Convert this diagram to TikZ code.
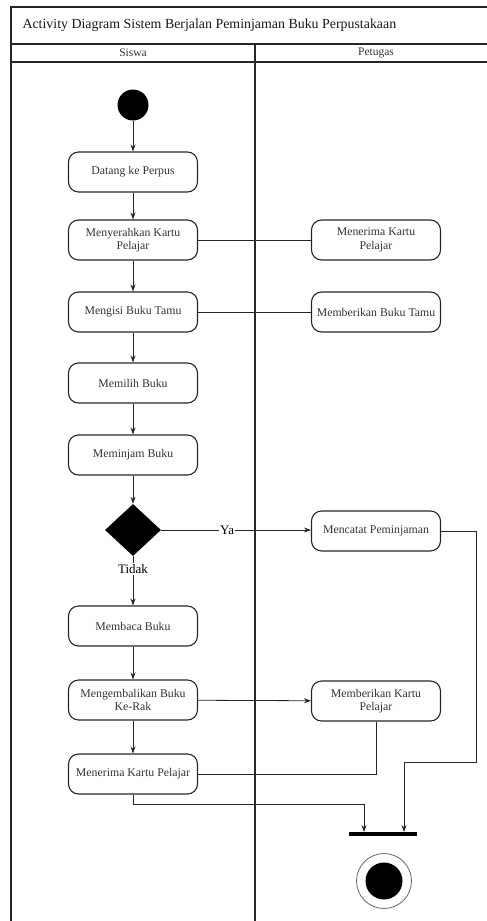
\documentclass[tikz,border=0pt]{standalone}
\usepackage{fontspec}
\setmainfont{Liberation Serif}
\usetikzlibrary{shapes.geometric,arrows.meta}

\tikzset{
  lane/.style={draw=black!85, line width=1.5pt},
  act/.style={draw=black!85, line width=1.1pt, rounded corners=10pt,
    minimum width=129pt, minimum height=40pt, align=center, inner sep=1pt,
    text=black!80, font=\fontsize{11.8}{13.5}\selectfont},
  flow/.style={draw=black!85, line width=0.8pt, -{Stealth[length=7pt,width=5pt]}},
  link/.style={draw=black!85, line width=0.8pt},
  guard/.style={fill=white, inner sep=1pt, text=black, font=\fontsize{13}{14}\selectfont},
}

\begin{document}
\begin{tikzpicture}[x=1pt,y=-1pt]
\useasboundingbox (0,0) rectangle (487,921);

% swimlanes
\draw [lane] (11,921) -- (11,7) -- (487,7);
\draw [lane] (11,44) -- (487,44);
\draw [lane] (11,62) -- (487,62);
\draw [lane] (255,44) -- (255,921);
\node [anchor=west, text=black!90, font=\fontsize{13.9}{15}\selectfont] (title) at (19,25)
  {Activity Diagram Sistem Berjalan Peminjaman Buku Perpustakaan};
\node [text=black!80, font=\fontsize{11.5}{13}\selectfont] (siswa) at (133,53) {Siswa};
\node [text=black!80, font=\fontsize{11.5}{13}\selectfont] (petugas) at (376,53) {Petugas};

% siswa
\node [circle, fill=black, minimum size=31pt, inner sep=0] (start) at (133,105) {};
\node [act] (datang) at (133,172) {Datang ke Perpus};
\node [act] (serah) at (133,240) {Menyerahkan Kartu\\Pelajar};
\node [act] (isi) at (133,312) {Mengisi Buku Tamu};
\node [act] (pilih) at (133,383) {Memilih Buku};
\node [act] (pinjam) at (133,455) {Meminjam Buku};
\node [diamond, fill=black, minimum width=56pt, minimum height=52pt, inner sep=0] (cek) at (133,530) {};
\node [act] (baca) at (133,626) {Membaca Buku};
\node [act] (kembali) at (133,700) {Mengembalikan Buku\\Ke-Rak};
\node [act] (terimaS) at (133,774) {Menerima Kartu Pelajar};

% petugas
\node [act] (terimaP) at (376,240) {Menerima Kartu\\Pelajar};
\node [act] (tamu) at (376,312) {Memberikan Buku Tamu};
\node [act] (catat) at (376,531) {Mencatat Peminjaman};
\node [act] (beri) at (376,701) {Memberikan Kartu\\Pelajar};
\node [fill=black, minimum width=68pt, minimum height=4pt, inner sep=0] (join) at (383,834) {};
\node [circle, draw=black!60, line width=0.8pt, minimum size=55pt, inner sep=0] (stop) at (384,881) {};
\node [circle, fill=black, minimum size=37pt, inner sep=0] (stopin) at (384,881) {};
\coordinate (j1) at (404,832);
\coordinate (j2) at (364,832);

% connectors
\draw [flow] (start) -- (datang);
\draw [flow] (datang) -- (serah);
\draw [link] (serah) -- (terimaP);
\draw [flow] (serah) -- (isi);
\draw [link] (isi) -- (tamu);
\draw [flow] (isi) -- (pilih);
\draw [flow] (pilih) -- (pinjam);
\draw [flow] (pinjam) -- (cek);
\draw [flow] (cek.east) -- node [guard, pos=0.44] {Ya} (catat.west |- cek.east);
\draw [flow] (cek) -- node [guard, pos=0.26] {Tidak} (baca);
\draw [flow] (baca) -- (kembali);
\draw [flow] (kembali) -- (terimaS);
\draw [flow] (kembali) -- (beri);
\draw [link] (beri.south) |- (terimaS.east);
\draw [flow] (catat.east) -| (476,762) -| (j1);
\draw [flow] (terimaS.south) -- ++(0,10) -| (j2);

\end{tikzpicture}
\end{document}
